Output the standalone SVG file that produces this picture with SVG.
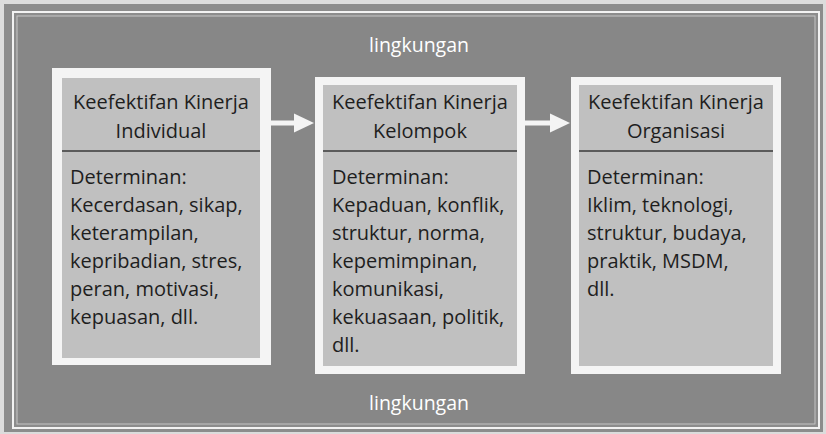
<svg xmlns="http://www.w3.org/2000/svg" width="826" height="434" viewBox="0 0 826 434">
  <style>
    .frame { fill: none; stroke: #f2f2f2; }
    .card { fill: #f4f4f4; }
    .panel { fill: #c0c0c0; }
    .rule { stroke: #3a3a3a; stroke-width: 1.5; }
    text { font-family: "Open Sans", "Liberation Sans", sans-serif; fill: #1e1e1e; font-size: 20px; }
    .env { fill: #ffffff; text-anchor: middle; font-size: 19.5px; }
    .head { text-anchor: middle; }
    .link { stroke: #f4f4f4; stroke-width: 5; fill: none; marker-end: url(#arrow); }
  </style>
  <defs>
    <marker id="arrow" markerWidth="5" markerHeight="5" refX="1" refY="2.5" orient="auto" markerUnits="strokeWidth">
      <path d="M0,0.6 L4,2.5 L0,4.4 Z" fill="#f4f4f4"/>
    </marker>
  </defs>

  <!-- page and surrounding environment -->
  <rect x="0" y="0" width="826" height="434" fill="#dcdcdc"/>
  <rect x="4" y="4" width="819" height="428" fill="#8c8c8c"/>
  <rect x="17" y="16" width="799" height="409" fill="#878787"/>
  <rect x="13" y="12" width="806" height="416" class="frame" stroke-width="2"/>
  <rect x="17" y="16" width="798" height="408" class="frame" stroke-width="1" opacity="0.6"/>

  <g id="env-top"><text class="env" x="419" y="52">lingkungan</text></g>
  <g id="env-bottom"><text class="env" x="419" y="410">lingkungan</text></g>

  <!-- connectors -->
  <g id="connectors">
    <line class="link" x1="271" y1="123" x2="299" y2="123"/>
    <line class="link" x1="525" y1="123" x2="555" y2="123"/>
  </g>

  <g id="individual">
    <rect class="card" x="52" y="68" width="219" height="297"/>
    <rect class="panel" x="62" y="78" width="198" height="280"/>
    <line class="rule" x1="62" y1="151" x2="260" y2="151"/>
    <text class="head" x="161" y="109">Keefektifan Kinerja</text>
    <text class="head" x="161" y="138">Individual</text>
    <text x="70" y="184">Determinan:</text>
    <text x="70" y="212">Kecerdasan, sikap,</text>
    <text x="70" y="240">keterampilan,</text>
    <text x="70" y="268">kepribadian, stres,</text>
    <text x="70" y="296">peran, motivasi,</text>
    <text x="70" y="324">kepuasan, dll.</text>
  </g>

  <g id="kelompok">
    <rect class="card" x="315" y="77" width="210" height="297"/>
    <rect class="panel" x="323" y="85" width="194" height="281"/>
    <line class="rule" x1="323" y1="151" x2="517" y2="151"/>
    <text class="head" x="420" y="109">Keefektifan Kinerja</text>
    <text class="head" x="420" y="138">Kelompok</text>
    <text x="332" y="184">Determinan:</text>
    <text x="332" y="212">Kepaduan, konflik,</text>
    <text x="332" y="240">struktur, norma,</text>
    <text x="332" y="268">kepemimpinan,</text>
    <text x="332" y="296">komunikasi,</text>
    <text x="332" y="324">kekuasaan, politik,</text>
    <text x="332" y="352">dll.</text>
  </g>

  <g id="organisasi">
    <rect class="card" x="571" y="77" width="210" height="297"/>
    <rect class="panel" x="579" y="85" width="194" height="281"/>
    <line class="rule" x1="579" y1="151" x2="773" y2="151"/>
    <text class="head" x="676" y="109">Keefektifan Kinerja</text>
    <text class="head" x="676" y="138">Organisasi</text>
    <text x="587" y="184">Determinan:</text>
    <text x="587" y="212">Iklim, teknologi,</text>
    <text x="587" y="240">struktur, budaya,</text>
    <text x="587" y="268">praktik, MSDM,</text>
    <text x="587" y="296">dll.</text>
  </g>
</svg>
